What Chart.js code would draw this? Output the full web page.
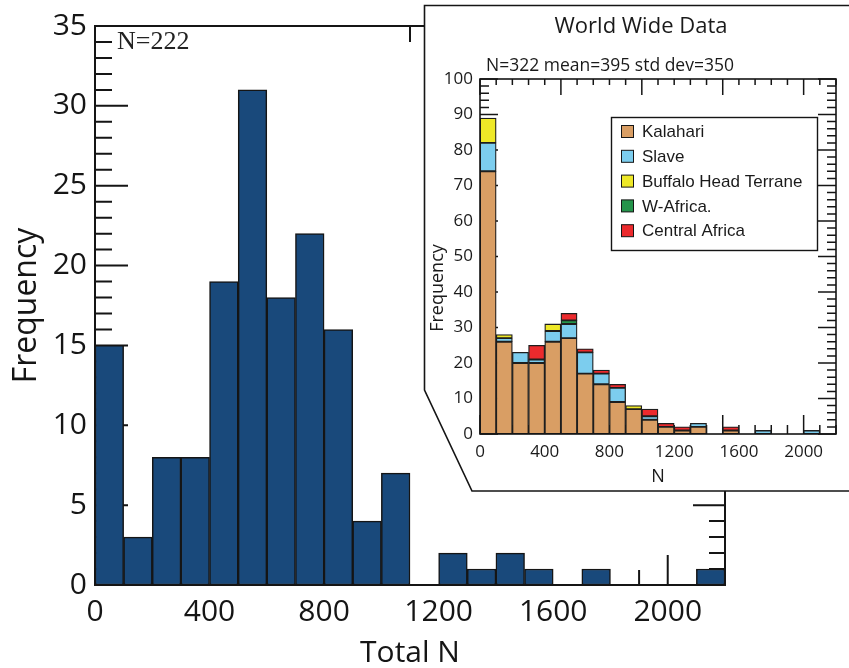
<!DOCTYPE html>
<html>
<head>
<meta charset="utf-8">
<script src="https://cdn.jsdelivr.net/npm/chart.js@4.4.1/dist/chart.umd.min.js"></script>
<style>
    html, body { margin: 0; padding: 0; background: #fff; }
    #wrap { position: relative; width: 849px; height: 668px; overflow: hidden; }
    #mainChart { position: absolute; left: 0; top: 0; }
    #insetChart { position: absolute; left: 423px; top: 4px; }
</style>
</head>
<body>
<div id="wrap">
    <canvas id="mainChart" width="849" height="668"></canvas>
    <canvas id="insetChart" width="426" height="489"></canvas>
</div>
<script>
// histogram bins, 100 wide
const binStarts = [0, 100, 200, 300, 400, 500, 600, 700, 800, 900, 1000, 1100,
    1200, 1300, 1400, 1500, 1600, 1700, 1800, 1900, 2000, 2100];

// main chart: Total N
const totalCounts = [15, 3, 8, 8, 19, 31, 18, 22, 16, 4, 7, 0, 2, 1, 2, 1, 0, 1, 0, 0, 0, 1];
const xTickLabels = [0, 400, 800, 1200, 1600, 2000];
const yTickLabels = [0, 5, 10, 15, 20, 25, 30, 35];

// inset: World Wide Data (stacked)
const seriesNames = ["Kalahari", "Slave", "Buffalo Head Terrane", "W-Africa.", "Central Africa"];
const kalahari = [74, 26, 20, 20, 26, 27, 17, 14, 9, 7, 4, 2, 1, 2, 0, 1, 0, 0, 0, 0, 0, 0];
const slave    = [8, 1, 3, 1, 3, 4, 6, 3, 4, 0, 1, 0, 0, 1, 0, 0, 0, 1, 0, 0, 1, 0];
const buffalo  = [7, 1, 0, 0, 2, 0, 0, 0, 0, 1, 0, 0, 0, 0, 0, 0, 0, 0, 0, 0, 0, 0];
const wAfrica  = [0, 0, 0, 0, 0, 1, 0, 0, 0, 0, 0, 0, 0, 0, 0, 0, 0, 0, 0, 0, 0, 0];
const central  = [0, 0, 0, 4, 0, 2, 1, 1, 1, 0, 2, 1, 1, 0, 0, 1, 0, 0, 0, 0, 0, 0];
const insetXTicks = [0, 400, 800, 1200, 1600, 2000];
const insetYTicks = [0, 10, 20, 30, 40, 50, 60, 70, 80, 90, 100];

const seriesColors = ["#d99e64", "#7ccdee", "#eee827", "#24944a", "#ec2a2d"];
const INK = "#151515";

const toPoints = (counts) => binStarts.map((b, i) => ({ x: b + 50, y: counts[i] }));
const plainLabel = (value) => String(value);

// ---------- main chart ----------
const mainDecor = {
    id: "mainDecor",
    beforeDatasetsDraw: (chart) => {
        const { ctx, chartArea: a, scales: { x, y } } = chart;
        ctx.save();
        ctx.strokeStyle = INK;
        ctx.lineWidth = 2;
        ctx.beginPath();
        for (let v = 0; v <= 35; v++) {
            const py = y.getPixelForValue(v);
            const major = v % 5 === 0;
            ctx.moveTo(a.left, py);
            ctx.lineTo(a.left + (major ? 33 : 17), py);
            ctx.moveTo(a.right, py);
            ctx.lineTo(a.right - (major ? 32 : 16), py);
        }
        // the few tick marks left on the top / bottom edges
        ctx.moveTo(x.getPixelForValue(1100), a.top);
        ctx.lineTo(x.getPixelForValue(1100), a.top + 16);
        ctx.moveTo(x.getPixelForValue(1900), a.bottom);
        ctx.lineTo(x.getPixelForValue(1900), a.bottom - 15);
        ctx.moveTo(x.getPixelForValue(2000), a.bottom);
        ctx.lineTo(x.getPixelForValue(2000), a.bottom - 30);
        ctx.stroke();
        ctx.restore();
    },
    afterDatasetsDraw: (chart) => {
        const { ctx, chartArea: a } = chart;
        ctx.save();
        ctx.strokeStyle = INK;
        ctx.lineWidth = 2;
        ctx.strokeRect(a.left, a.top, a.right - a.left, a.bottom - a.top);
        ctx.fillStyle = "#222";
        ctx.font = "26px 'Liberation Serif'";
        ctx.textAlign = "left";
        ctx.textBaseline = "alphabetic";
        ctx.fillText("N=222", a.left + 22, a.top + 23);
        ctx.restore();
    }
};

new Chart(document.getElementById("mainChart"), {
    type: "bar",
    data: {
        datasets: [{
            data: toPoints(totalCounts),
            backgroundColor: "#19497b",
            borderColor: INK,
            borderWidth: 1.5,
            borderSkipped: false,
            barPercentage: 1,
            categoryPercentage: 1,
        }]
    },
    options: {
        responsive: false,
        animation: false,
        layout: { padding: { top: 20, right: 124, left: 0, bottom: 0 } },
        plugins: { legend: { display: false }, tooltip: { enabled: false } },
        scales: {
            x: {
                type: "linear",
                min: 0,
                max: 2200,
                offset: false,
                grid: { display: false, drawTicks: false },
                border: { display: false },
                afterBuildTicks: (s) => { s.ticks = xTickLabels.map(v => ({ value: v })); },
                afterFit: (s) => { s.height = 83; },
                ticks: {
                    font: { family: "Open Sans", size: 30 }, color: INK, padding: 9,
                    maxRotation: 0, autoSkip: false, callback: plainLabel
                },
                title: {
                    display: true, text: "Total N", color: INK,
                    font: { family: "Open Sans", size: 30, lineHeight: 1 }, padding: 0
                }
            },
            y: {
                min: 0,
                max: 35,
                grid: { display: false, drawTicks: false },
                border: { display: false },
                afterBuildTicks: (s) => { s.ticks = yTickLabels.map(v => ({ value: v })); },
                afterFit: (s) => { s.width = 95; },
                ticks: { font: { family: "Open Sans", size: 30 }, color: INK, padding: 8, callback: plainLabel },
                title: {
                    display: true, text: "Frequency", color: INK,
                    font: { family: "Open Sans", size: 32, lineHeight: 1 }, padding: { top: 11, bottom: 0 }
                }
            }
        }
    },
    plugins: [mainDecor]
});

// ---------- inset chart ----------
const insetDecor = {
    id: "insetDecor",
    beforeDraw: (chart) => {
        const { ctx, width } = chart;
        // white callout panel
        ctx.save();
        ctx.beginPath();
        ctx.moveTo(width + 2, 1.5);
        ctx.lineTo(1.5, 1.5);
        ctx.lineTo(1.5, 386);
        ctx.lineTo(49, 487);
        ctx.lineTo(width + 2, 487);
        ctx.fillStyle = "#fff";
        ctx.fill();
        ctx.strokeStyle = INK;
        ctx.lineWidth = 1.6;
        ctx.stroke();
        ctx.restore();
    },
    beforeDatasetsDraw: (chart) => {
        const { ctx, chartArea: a, scales: { x, y } } = chart;
        ctx.save();
        ctx.strokeStyle = INK;
        ctx.lineWidth = 1.5;
        ctx.beginPath();
        for (let v = 0; v <= 100; v += 2) {
            const py = y.getPixelForValue(v);
            const major = v % 10 === 0;
            ctx.moveTo(a.left, py);
            ctx.lineTo(a.left + (major ? 18 : 9), py);
            ctx.moveTo(a.right, py);
            ctx.lineTo(a.right - (major ? 18 : 9), py);
        }
        for (let v = 0; v <= 2200; v += 100) {
            const px = x.getPixelForValue(v);
            const major = v % 500 === 0;
            ctx.moveTo(px, a.top);
            ctx.lineTo(px, a.top + (major ? 16 : 6));
            ctx.moveTo(px, a.bottom);
            ctx.lineTo(px, a.bottom - (major ? 19 : 9));
        }
        ctx.stroke();
        ctx.restore();
    },
    afterDatasetsDraw: (chart) => {
        const { ctx, chartArea: a } = chart;
        ctx.save();
        ctx.strokeStyle = INK;
        ctx.lineWidth = 1.6;
        ctx.strokeRect(a.left, a.top, a.right - a.left, a.bottom - a.top);

        ctx.fillStyle = "#1a1a1a";
        ctx.textAlign = "center";
        ctx.textBaseline = "alphabetic";
        ctx.font = "22px 'Open Sans'";
        ctx.fillText("World Wide Data", 218, 29);
        ctx.font = "17.5px 'Open Sans'";
        ctx.fillText("N=322 mean=395 std dev=350", 187, 66.5);
        ctx.font = "18px 'Open Sans'";
        ctx.fillText("N", (a.left + a.right) / 2, 478);
        ctx.save();
        ctx.translate(15, 284);
        ctx.rotate(-Math.PI / 2);
        ctx.textBaseline = "middle";
        ctx.fillText("Frequency", 0, 0);
        ctx.restore();

        // legend box
        ctx.lineWidth = 1.4;
        ctx.strokeRect(188.5, 113.5, 206, 133);
        ctx.font = "17px 'Liberation Sans'";
        ctx.textAlign = "left";
        ctx.textBaseline = "middle";
        chart.data.datasets.forEach((ds, i) => {
            const cy = 127.5 + i * 24.8;
            ctx.fillStyle = ds.backgroundColor;
            ctx.fillRect(198.5, cy - 6, 12, 12);
            ctx.lineWidth = 1;
            ctx.strokeRect(198.5, cy - 6, 12, 12);
            ctx.fillStyle = "#1a1a1a";
            ctx.fillText(ds.label, 219, cy + 1);
        });
        ctx.restore();
    }
};

const worldCounts = [kalahari, slave, buffalo, wAfrica, central];

new Chart(document.getElementById("insetChart"), {
    type: "bar",
    data: {
        datasets: seriesNames.map((name, k) => ({
            label: name,
            data: toPoints(worldCounts[k]),
            backgroundColor: seriesColors[k],
            borderColor: "#1e1e1e",
            borderWidth: 1.3,
            borderSkipped: false,
            barPercentage: 1,
            categoryPercentage: 1,
        }))
    },
    options: {
        responsive: false,
        animation: false,
        layout: { padding: { top: 75, right: 13, left: 0, bottom: 0 } },
        plugins: { legend: { display: false }, tooltip: { enabled: false } },
        scales: {
            x: {
                type: "linear",
                stacked: true,
                min: 0,
                max: 2200,
                offset: false,
                grid: { display: false, drawTicks: false },
                border: { display: false },
                afterBuildTicks: (s) => { s.ticks = insetXTicks.map(v => ({ value: v })); },
                afterFit: (s) => { s.height = 59; },
                ticks: {
                    font: { family: "Open Sans", size: 17 }, color: "#1a1a1a", padding: 8,
                    maxRotation: 0, autoSkip: false, callback: plainLabel
                }
            },
            y: {
                stacked: true,
                min: 0,
                max: 100,
                grid: { display: false, drawTicks: false },
                border: { display: false },
                afterBuildTicks: (s) => { s.ticks = insetYTicks.map(v => ({ value: v })); },
                afterFit: (s) => { s.width = 57; },
                ticks: { font: { family: "Open Sans", size: 17 }, color: "#1a1a1a", padding: 7, callback: plainLabel }
            }
        }
    },
    plugins: [insetDecor]
});
</script>
</body>
</html>
